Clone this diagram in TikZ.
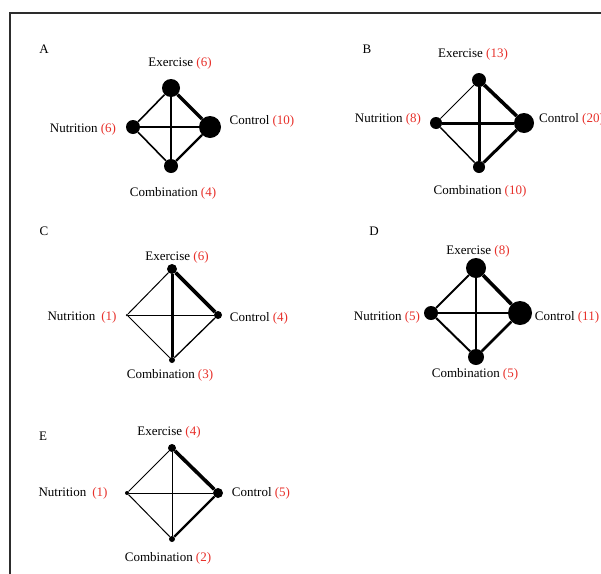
\documentclass[tikz,border=0pt]{standalone}
\usepackage{fontspec}
\setmainfont{Liberation Serif}
\definecolor{numred}{RGB}{232,48,42}
\definecolor{framegray}{RGB}{45,45,45}
\newcommand{\nm}[1]{\textcolor{numred}{#1}}
\tikzset{
  lbl/.style={font=\fontsize{13}{15}\selectfont, inner sep=0pt, anchor=center},
  dot/.style={circle, fill=black, draw=none, inner sep=0pt, minimum size=#1},
  edge/.style={draw=black, line width=#1},
}
\begin{document}
\begin{tikzpicture}[x=1pt,y=-1pt]
\useasboundingbox (0,0) rectangle (601,573);
\clip (0,0) rectangle (601,573);
\fill[white] (0,0) rectangle (601,573);
\coordinate (fbl) at (10,575);
\coordinate (ftl) at (10,13);
\coordinate (ftr) at (603,13);
\draw[framegray, line width=2.2pt] (fbl) -- (ftl) -- (ftr);

% ---------- Panel A ----------
\node[lbl] (Atag) at (44,49) {A};
\node[dot=18] (Aex) at (171,88) {};
\node[dot=22] (Actl) at (210,127) {};
\node[dot=14] (Anut) at (133,127) {};
\node[dot=14] (Acomb) at (171,166) {};
\draw[edge=3.2] (Aex) -- (Actl);
\draw[edge=2.6] (Anut) -- (Actl);
\draw[edge=2.2] (Acomb) -- (Actl);
\draw[edge=1.6] (Aex) -- (Acomb);
\draw[edge=1.6] (Anut) -- (Aex);
\draw[edge=1.6] (Anut) -- (Acomb);
\node[lbl] (Aexl) at (180,63) {Exercise \nm{(6)}};
\node[lbl] (Actll) at (262,121) {Control \nm{(10)}};
\node[lbl] (Anutl) at (83,129) {Nutrition \nm{(6)}};
\node[lbl] (Acombl) at (173,193) {Combination \nm{(4)}};

% ---------- Panel B ----------
\node[lbl] (Btag) at (367,49) {B};
\node[dot=14] (Bex) at (479,80) {};
\node[dot=20] (Bctl) at (524,123) {};
\node[dot=12] (Bnut) at (436,123) {};
\node[dot=12] (Bcomb) at (479,167) {};
\draw[edge=3.6] (Bex) -- (Bctl);
\draw[edge=3] (Bex) -- (Bcomb);
\draw[edge=3] (Bnut) -- (Bctl);
\draw[edge=3] (Bcomb) -- (Bctl);
\draw[edge=0.8] (Bnut) -- (Bex);
\draw[edge=1.4] (Bnut) -- (Bcomb);
\node[lbl] (Bexl) at (473,54) {Exercise \nm{(13)}};
\node[lbl, anchor=west] (Bctll) at (539,119) {Control \nm{(20)}};
\node[lbl] (Bnutl) at (388,119) {Nutrition \nm{(8)}};
\node[lbl] (Bcombl) at (480,191) {Combination \nm{(10)}};

% ---------- Panel C ----------
\node[lbl] (Ctag) at (44,231) {C};
\node[dot=10] (Cex) at (172,269) {};
\node[dot=8] (Cctl) at (218,315) {};
\node[dot=2.5] (Cnut) at (127,315) {};
\node[dot=6] (Ccomb) at (172,360) {};
\draw[edge=3.6] (Cex) -- (Cctl);
\draw[edge=3] (Cex) -- (Ccomb);
\draw[edge=1] (Cnut) -- (Cex);
\draw[edge=1] (Cnut) -- (Cctl);
\draw[edge=1] (Cnut) -- (Ccomb);
\draw[edge=1.3] (Ccomb) -- (Cctl);
\node[lbl] (Cexl) at (177,257) {Exercise \nm{(6)}};
\node[lbl] (Cctll) at (259,318) {Control \nm{(4)}};
\node[lbl] (Cnutl) at (82,317) {Nutrition\hspace{6pt}\nm{(1)}};
\node[lbl] (Ccombl) at (170,375) {Combination \nm{(3)}};

% ---------- Panel D ----------
\node[lbl] (Dtag) at (374,231) {D};
\node[dot=20] (Dex) at (476,268) {};
\node[dot=24] (Dctl) at (520,313) {};
\node[dot=14] (Dnut) at (431,313) {};
\node[dot=16] (Dcomb) at (476,357) {};
\draw[edge=3.6] (Dex) -- (Dctl);
\draw[edge=2.6] (Dnut) -- (Dctl);
\draw[edge=2.6] (Dcomb) -- (Dctl);
\draw[edge=2] (Dex) -- (Dcomb);
\draw[edge=2] (Dnut) -- (Dex);
\draw[edge=2] (Dnut) -- (Dcomb);
\node[lbl] (Dexl) at (478,251) {Exercise \nm{(8)}};
\node[lbl] (Dctll) at (567,317) {Control \nm{(11)}};
\node[lbl] (Dnutl) at (387,317) {Nutrition \nm{(5)}};
\node[lbl] (Dcombl) at (475,374) {Combination \nm{(5)}};

% ---------- Panel E ----------
\node[lbl] (Etag) at (43,436) {E};
\node[dot=8] (Eex) at (172,448) {};
\node[dot=10] (Ectl) at (218,493) {};
\node[dot=4] (Enut) at (127,493) {};
\node[dot=6] (Ecomb) at (172,539) {};
\draw[edge=3.6] (Eex) -- (Ectl);
\draw[edge=2.4] (Ecomb) -- (Ectl);
\draw[edge=1] (Eex) -- (Ecomb);
\draw[edge=1] (Enut) -- (Eex);
\draw[edge=1] (Enut) -- (Ectl);
\draw[edge=1] (Enut) -- (Ecomb);
\node[lbl] (Eexl) at (169,432) {Exercise \nm{(4)}};
\node[lbl] (Ectll) at (261,493) {Control \nm{(5)}};
\node[lbl] (Enutl) at (73,493) {Nutrition\hspace{6pt}\nm{(1)}};
\node[lbl] (Ecombl) at (168,558) {Combination \nm{(2)}};
\end{tikzpicture}
\end{document}
